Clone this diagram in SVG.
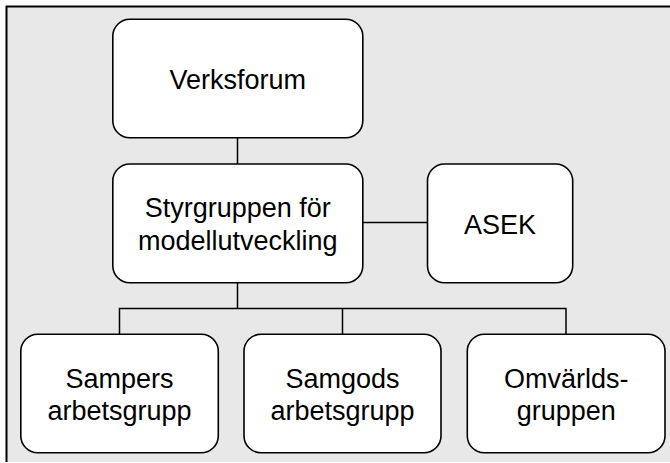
<svg xmlns="http://www.w3.org/2000/svg" width="670" height="463" viewBox="0 0 670 463">
<style>
.node rect{fill:#ffffff;stroke:#000000;stroke-width:1.6}
.node text{font-family:"Liberation Sans",Arial,sans-serif;font-size:27px;fill:#000000;text-anchor:middle}
.conn path{fill:none;stroke:#000000;stroke-width:1.5}
</style>
<rect x="6" y="6" width="664" height="456" fill="#e8e8e8"/>
<path d="M6.5,462 V6.5 H670" fill="none" stroke="#000" stroke-width="2"/>
<g class="conn" id="connectors">
<path d="M237.5,138 V164"/>
<path d="M363,222.5 H428"/>
<path d="M237.5,283 V308.5"/>
<path d="M119.5,334 V308.5 H566 V334"/>
<path d="M342.5,308.5 V334"/>
</g>
<g class="node" id="verksforum">
<rect x="112.8" y="19.3" width="250" height="118.4" rx="17"/>
<text x="237.8" y="88.5">Verksforum</text>
</g>
<g class="node" id="styrgruppen">
<rect x="112.8" y="164" width="250" height="118.7" rx="17"/>
<text x="237.8" y="216.5">Styrgruppen för</text>
<text x="237.8" y="249.5">modellutveckling</text>
</g>
<g class="node" id="asek">
<rect x="427.5" y="164" width="145.2" height="118.7" rx="17"/>
<text x="500.1" y="233.5">ASEK</text>
</g>
<g class="node" id="sampers">
<rect x="20.8" y="334.3" width="197.5" height="118.4" rx="17"/>
<text x="119.5" y="387.5">Sampers</text>
<text x="119.5" y="419.5">arbetsgrupp</text>
</g>
<g class="node" id="samgods">
<rect x="244" y="334.3" width="197" height="118.4" rx="17"/>
<text x="342.5" y="387.5">Samgods</text>
<text x="342.5" y="419.5">arbetsgrupp</text>
</g>
<g class="node" id="omvarlds">
<rect x="467.3" y="334.3" width="197.7" height="118.4" rx="17"/>
<text x="566.2" y="387.5">Omvärlds-</text>
<text x="566.2" y="419.5">gruppen</text>
</g>
</svg>
